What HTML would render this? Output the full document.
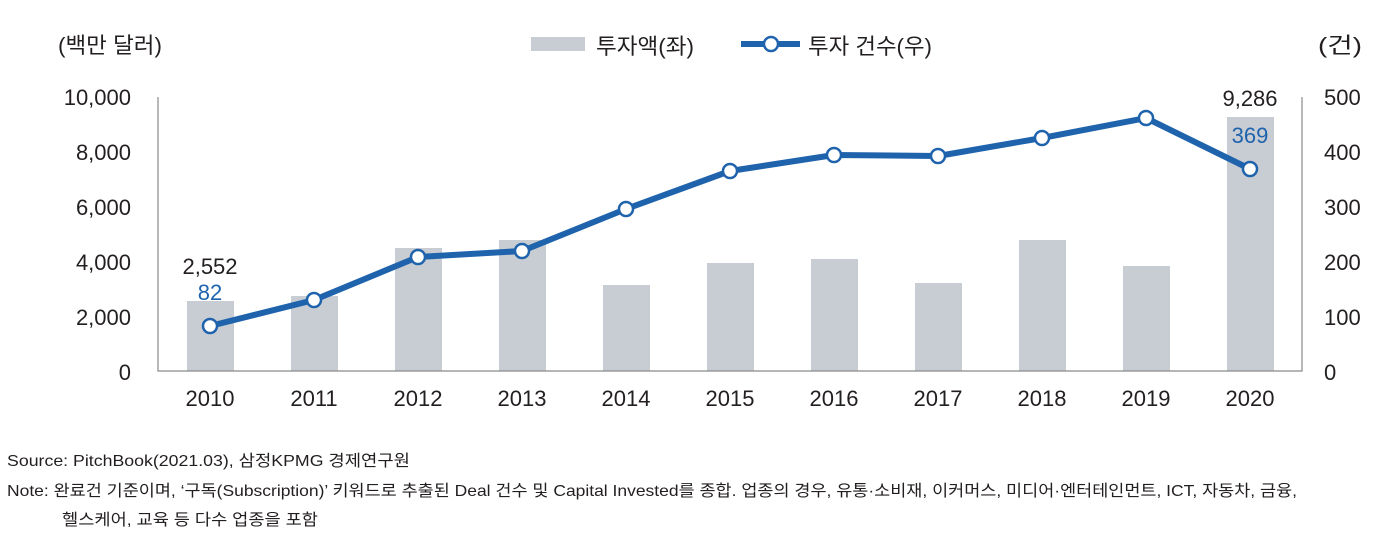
<!DOCTYPE html>
<html><head><meta charset="utf-8"><style>
html,body{margin:0;padding:0;background:#fff}
svg{display:block}
text{font-family:"Liberation Sans","Noto Sans CJK KR",sans-serif;fill:#231f20}
</style></head><body>
<svg width="1373" height="533" viewBox="0 0 1373 533" xmlns="http://www.w3.org/2000/svg">
<g font-size="22">
<text x="58" y="53" textLength="104" lengthAdjust="spacingAndGlyphs">(백만 달러)</text>
<text x="1318" y="53" textLength="44" lengthAdjust="spacingAndGlyphs">(건)</text>
<rect x="531" y="37" width="54" height="14" fill="#c8ccd3"/>
<text x="596" y="54" textLength="98" lengthAdjust="spacingAndGlyphs">투자액(좌)</text>
<line x1="741" y1="44" x2="800" y2="44" stroke="#1f63ad" stroke-width="6"/>
<circle cx="771" cy="44" r="7" fill="#fff" stroke="#1f63ad" stroke-width="2.5"/>
<text x="808" y="54" textLength="124" lengthAdjust="spacingAndGlyphs">투자 건수(우)</text>
</g>
<g font-size="22" text-anchor="end">
<text x="131" y="105">10,000</text>
<text x="131" y="160">8,000</text>
<text x="131" y="215">6,000</text>
<text x="131" y="270">4,000</text>
<text x="131" y="325">2,000</text>
<text x="131" y="380">0</text>
</g>
<g font-size="22">
<text x="1324" y="105">500</text>
<text x="1324" y="160">400</text>
<text x="1324" y="215">300</text>
<text x="1324" y="270">200</text>
<text x="1324" y="325">100</text>
<text x="1324" y="380">0</text>
</g>
<g fill="#c8ccd3">
<rect x="187" y="301" width="47" height="70"/>
<rect x="291" y="296" width="47" height="75"/>
<rect x="395" y="248" width="47" height="123"/>
<rect x="499" y="240" width="47" height="131"/>
<rect x="603" y="285" width="47" height="86"/>
<rect x="707" y="263" width="47" height="108"/>
<rect x="811" y="259" width="47" height="112"/>
<rect x="915" y="283" width="47" height="88"/>
<rect x="1019" y="240" width="47" height="131"/>
<rect x="1123" y="266" width="47" height="105"/>
<rect x="1227" y="117" width="47" height="254"/>
</g>
<polyline points="158,97 158,371 1302,371 1302,97" fill="none" stroke="#8a8a8a" stroke-width="1.2"/>
<polyline points="210,326 314,300 418,257 522,251 626,209 730,171 834,155 938,156 1042,138 1146,118 1250,169" fill="none" stroke="#1f63ad" stroke-width="6" stroke-linejoin="round"/>
<g fill="#fff" stroke="#1f63ad" stroke-width="2.5">
<circle cx="210" cy="326" r="7"/><circle cx="314" cy="300" r="7"/><circle cx="418" cy="257" r="7"/><circle cx="522" cy="251" r="7"/><circle cx="626" cy="209" r="7"/><circle cx="730" cy="171" r="7"/><circle cx="834" cy="155" r="7"/><circle cx="938" cy="156" r="7"/><circle cx="1042" cy="138" r="7"/><circle cx="1146" cy="118" r="7"/><circle cx="1250" cy="169" r="7"/>
</g>
<g font-size="22" text-anchor="middle">
<text x="210" y="274">2,552</text>
<text x="210" y="300" style="fill:#1f63ad">82</text>
<text x="1250" y="106">9,286</text>
<text x="1250" y="143" style="fill:#1f63ad">369</text>
<text x="210" y="406">2010</text><text x="314" y="406">2011</text><text x="418" y="406">2012</text><text x="522" y="406">2013</text><text x="626" y="406">2014</text><text x="730" y="406">2015</text><text x="834" y="406">2016</text><text x="938" y="406">2017</text><text x="1042" y="406">2018</text><text x="1146" y="406">2019</text><text x="1250" y="406">2020</text>
</g>
<g font-size="16">
<text x="7" y="466" textLength="403" lengthAdjust="spacingAndGlyphs">Source: PitchBook(2021.03), 삼정KPMG 경제연구원</text>
<text x="7" y="496" textLength="1290" lengthAdjust="spacingAndGlyphs">Note: 완료건 기준이며, ‘구독(Subscription)’ 키워드로 추출된 Deal 건수 및 Capital Invested를 종합. 업종의 경우, 유통·소비재, 이커머스, 미디어·엔터테인먼트, ICT, 자동차, 금융,</text>
<text x="62" y="525" textLength="256" lengthAdjust="spacingAndGlyphs">헬스케어, 교육 등 다수 업종을 포함</text>
</g>
</svg>
</body></html>
